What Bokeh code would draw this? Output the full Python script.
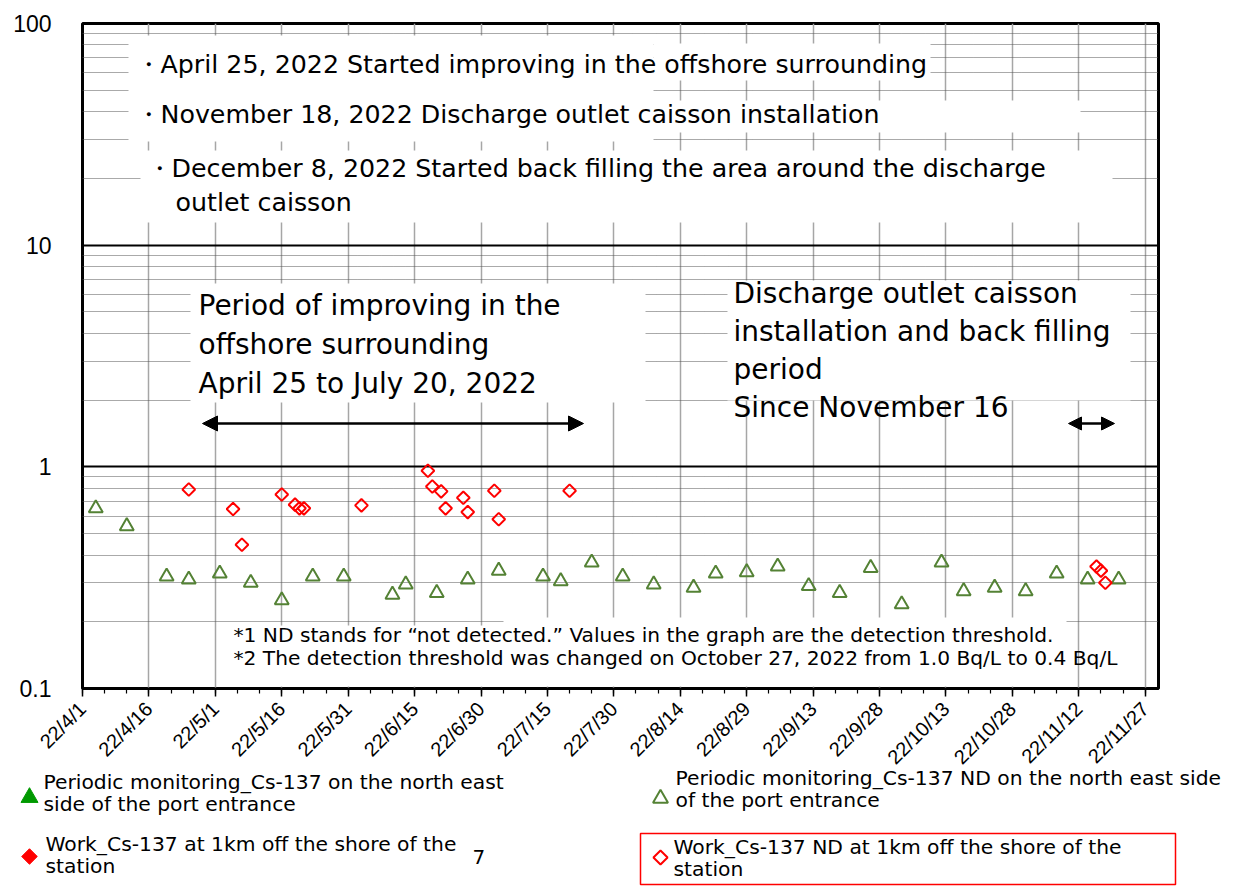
import pandas as pd
from bokeh.plotting import figure
from bokeh.models import (Range1d, FixedTicker, CustomJSTickFormatter, Label,
                          BoxAnnotation, Arrow, NormalHead, ColumnDataSource)
from bokeh.embed import file_html
from bokeh.resources import INLINE
from bokeh.core.properties import value

# ---------------- data ----------------
periodic_nd_dates = ["2022-04-04", "2022-04-11", "2022-04-20", "2022-04-25", "2022-05-02",
    "2022-05-09", "2022-05-16", "2022-05-23", "2022-05-30", "2022-06-10", "2022-06-13",
    "2022-06-20", "2022-06-27", "2022-07-04", "2022-07-14", "2022-07-18", "2022-07-25",
    "2022-08-01", "2022-08-08", "2022-08-17", "2022-08-22", "2022-08-29", "2022-09-05",
    "2022-09-12", "2022-09-19", "2022-09-26", "2022-10-03", "2022-10-12", "2022-10-17",
    "2022-10-24", "2022-10-31", "2022-11-07", "2022-11-14", "2022-11-21"]
periodic_nd_values = [0.65, 0.54, 0.32, 0.31, 0.33, 0.30, 0.25, 0.32, 0.32, 0.265, 0.295,
    0.27, 0.31, 0.34, 0.32, 0.305, 0.37, 0.32, 0.295, 0.285, 0.33, 0.335, 0.355, 0.29, 0.27,
    0.35, 0.24, 0.37, 0.275, 0.285, 0.275, 0.33, 0.31, 0.31]

work_nd_dates = ["2022-04-25", "2022-05-05", "2022-05-07", "2022-05-16", "2022-05-19",
    "2022-05-20", "2022-05-21", "2022-06-03", "2022-06-18", "2022-06-19", "2022-06-21",
    "2022-06-22", "2022-06-26", "2022-06-27", "2022-07-03", "2022-07-04", "2022-07-20",
    "2022-11-16", "2022-11-17", "2022-11-18"]
work_nd_values = [0.79, 0.645, 0.445, 0.75, 0.675, 0.65, 0.65, 0.67, 0.96, 0.815, 0.775,
    0.65, 0.725, 0.625, 0.78, 0.58, 0.78, 0.355, 0.34, 0.30]

x_tick_labels = ["22/4/1", "22/4/16", "22/5/1", "22/5/16", "22/5/31", "22/6/15", "22/6/30",
    "22/7/15", "22/7/30", "22/8/14", "22/8/29", "22/9/13", "22/9/28", "22/10/13",
    "22/10/28", "22/11/12", "22/11/27"]
y_tick_values = [0.1, 1, 10, 100]
y_tick_labels = ["0.1", "1", "10", "100"]

legend_labels = [
    ["Periodic monitoring_Cs-137 on the north east", "side of the port entrance"],
    ["Work_Cs-137 at 1km off the shore of the", "station"],
    ["Periodic monitoring_Cs-137 ND on the north east side", "of the port entrance"],
    ["Work_Cs-137 ND at 1km off the shore of the", "station"],
]

notes_top = ["・April 25, 2022 Started improving in the offshore surrounding",
             "・November 18, 2022 Discharge outlet caisson installation",
             "・December 8, 2022 Started back filling the area around the discharge",
             "outlet caisson"]
notes_period1 = ["Period of improving in the", "offshore surrounding", "April 25 to July 20, 2022"]
notes_period2 = ["Discharge outlet caisson", "installation and back filling", "period",
                 "Since November 16"]
footnotes = ["*1 ND stands for \u201cnot detected.\u201d Values in the graph are the detection threshold.",
             "*2 The detection threshold was changed on October 27, 2022 from 1.0 Bq/L to 0.4 Bq/L"]

# ---------------- helpers ----------------
def ms(d):
    return pd.Timestamp(d).value / 1e6

x_start, x_end = ms("2022-04-01"), ms("2022-11-30")
tick_ms = [ms(pd.Timestamp("2022-04-01") + pd.Timedelta(days=15 * i)) for i in range(len(x_tick_labels))]
minor_ms = [ms(pd.Timestamp("2022-04-01") + pd.Timedelta(days=5 * i)) for i in range(49)]
y_minor = [m * 10 ** e for e in (-1, 0, 1) for m in range(2, 10)]

# page geometry (used only to place annotations)
W, H = 1236, 891
LEG_TOP = 760
FL, FR, FT, FB = 82, 1158, 23, 688
def px_x(px):
    return x_start + (px - FL) / (FR - FL) * (x_end - x_start)
def px_y(py):
    return 10 ** (2 - 3 * (py - FT) / (FB - FT))

FONT = "DejaVu Sans"
AX_FONT = "Liberation Sans"

# ---------------- main figure ----------------
p = figure(width=W, height=H, x_axis_type="datetime", y_axis_type="log",
           x_range=Range1d(x_start, x_end), y_range=Range1d(0.1, 100),
           toolbar_location=None, output_backend="svg",
           min_border_left=FL, min_border_right=W - FR,
           min_border_top=FT, min_border_bottom=H - FB)
p.background_fill_color = "white"
p.border_fill_color = "white"
p.outline_line_color = "black"
p.outline_line_width = 3

xt = FixedTicker(ticks=tick_ms, minor_ticks=minor_ms)
yt = FixedTicker(ticks=y_tick_values, minor_ticks=y_minor)
p.xaxis.ticker = xt
p.xgrid.ticker = xt
p.yaxis.ticker = yt
p.ygrid.ticker = yt

p.xaxis.formatter = CustomJSTickFormatter(args=dict(vals=tick_ms, labels=x_tick_labels), code="""
let best = -1, bd = Infinity;
for (let i = 0; i < vals.length; i++) { const d = Math.abs(vals[i] - tick); if (d < bd) { bd = d; best = i; } }
return bd < 3600000 ? labels[best] : "";
""")
p.yaxis.formatter = CustomJSTickFormatter(args=dict(vals=y_tick_values, labels=y_tick_labels), code="""
let best = -1, bd = Infinity;
for (let i = 0; i < vals.length; i++) { const d = Math.abs(Math.log10(vals[i]) - Math.log10(tick)); if (d < bd) { bd = d; best = i; } }
return labels[best];
""")

p.xaxis.major_label_orientation = 0.785398
p.xaxis.major_label_text_font = AX_FONT
p.xaxis.major_label_text_font_size = "20px"
p.xaxis.major_label_text_color = "black"
p.xaxis.major_label_standoff = 9
p.xaxis.axis_line_color = "black"
p.xaxis.axis_line_width = 2
p.xaxis.major_tick_in = 0
p.xaxis.major_tick_out = 8
p.xaxis.minor_tick_in = 0
p.xaxis.minor_tick_out = 5
p.xaxis.major_tick_line_color = "black"
p.xaxis.minor_tick_line_color = "black"
p.xaxis.major_tick_line_width = 1.5
p.xaxis.minor_tick_line_width = 1.2

p.yaxis.major_label_text_font = AX_FONT
p.yaxis.major_label_text_font_size = "23px"
p.yaxis.major_label_text_color = "black"
p.yaxis.major_label_standoff = 25
p.yaxis.major_tick_line_color = None
p.yaxis.minor_tick_line_color = None
p.yaxis.axis_line_color = None

p.xgrid.grid_line_color = "#a6a6a6"
p.xgrid.grid_line_width = 1.5
p.ygrid.grid_line_color = "black"
p.ygrid.grid_line_width = 2
p.ygrid.minor_grid_line_color = "#555555"
p.ygrid.minor_grid_line_dash = "1 1"
p.ygrid.minor_grid_line_width = 1

src_p = ColumnDataSource(dict(date=pd.to_datetime(periodic_nd_dates), val=periodic_nd_values))
src_w = ColumnDataSource(dict(date=pd.to_datetime(work_nd_dates), val=work_nd_values))
p.scatter(x="date", y="val", source=src_p, marker="triangle", size=14,
          fill_color=None, line_color="#548235", line_width=2)
p.scatter(x="date", y="val", source=src_w, marker="square", angle=0.785398, size=9,
          fill_color=None, line_color="#ff0000", line_width=2)

# white text boxes
def wbox(l, r, t, b):
    p.add_layout(BoxAnnotation(left=px_x(l), right=px_x(r), top=px_y(t), bottom=px_y(b),
                               fill_color="white", fill_alpha=1, line_color=None))

wbox(128, 653, 35, 141)
wbox(653, 930, 43, 80)
wbox(653, 1080, 100, 132)
wbox(140, 1112, 150, 222)
wbox(190, 645, 283, 402)
wbox(727, 1130, 280, 400)
wbox(503, 1066, 617, 686)
wbox(228, 503, 625, 686)

def lab(text, px, py, size):
    p.add_layout(Label(x=px_x(px), y=px_y(py), text=text, text_font=FONT,
                       text_font_size=size, text_color="black",
                       text_align="left", text_baseline="middle"))

lab(notes_top[0], 135, 64, "25.3px")
lab(notes_top[1], 135, 114, "25.3px")
lab(notes_top[2], 146, 168, "25.3px")
lab(notes_top[3], 175, 202, "25.3px")
for i, t in enumerate(notes_period1):
    lab(t, 198, 305 + 39 * i, "28px")
for i, t in enumerate(notes_period2):
    lab(t, 733, 293 + 38 * i, "28px")
for i, t in enumerate(footnotes):
    lab(t, 233, 634 + 23 * i, "20.2px")

for (a, b, s) in [(202, 583, 15), (1068, 1114, 13)]:
    p.add_layout(Arrow(start=NormalHead(size=s, fill_color="black", line_color="black"),
                       end=NormalHead(size=s, fill_color="black", line_color="black"),
                       x_start=px_x(a), y_start=px_y(423), x_end=px_x(b), y_end=px_y(423),
                       line_color="black", line_width=2.5))

# ---------------- legend figure (separate root overlaid on the bottom strip) ----------------
H2 = H - LEG_TOP
leg = figure(width=W, height=H2, x_range=Range1d(0, W), y_range=Range1d(H, LEG_TOP),
             toolbar_location=None, output_backend="svg",
             x_axis_location=None, y_axis_location=None,
             min_border_left=0, min_border_right=0, min_border_top=0, min_border_bottom=0,
             margin=(-H2, 0, 0, 0))
leg.grid.visible = False
leg.outline_line_color = None
leg.background_fill_alpha = 0
leg.border_fill_alpha = 0

leg.scatter(x=[29], y=[797], marker="triangle", size=17, fill_color="#009900", line_color="#009900")
leg.scatter(x=[29], y=[856], marker="square", angle=0.785398, size=11, fill_color="#ff0000", line_color="#ff0000")
leg.scatter(x=[660], y=[798], marker="triangle", size=15, fill_color=None, line_color="#548235", line_width=2)
leg.quad(left=[640], right=[1175], top=[833], bottom=[884], fill_color=None, line_color="#ff0000", line_width=1.5)
leg.scatter(x=[660], y=[857], marker="square", angle=0.785398, size=10, fill_color=None, line_color="#ff0000", line_width=2)

pos = [(43, 781), (45, 843), (675, 777), (673, 846)]
for (x0, y0), lines in zip(pos, legend_labels):
    leg.text(x=[x0] * len(lines), y=[y0 + 22.5 * i for i in range(len(lines))], text=lines,
             text_font=value(FONT), text_font_size="20.3px", text_color="black",
             text_baseline="middle", text_align="left")
leg.text(x=[472], y=[856], text=["7"], text_font=value(FONT), text_font_size="20px",
         text_color="black", text_baseline="middle")

open("out.html", "w").write(file_html([p, leg], INLINE))
